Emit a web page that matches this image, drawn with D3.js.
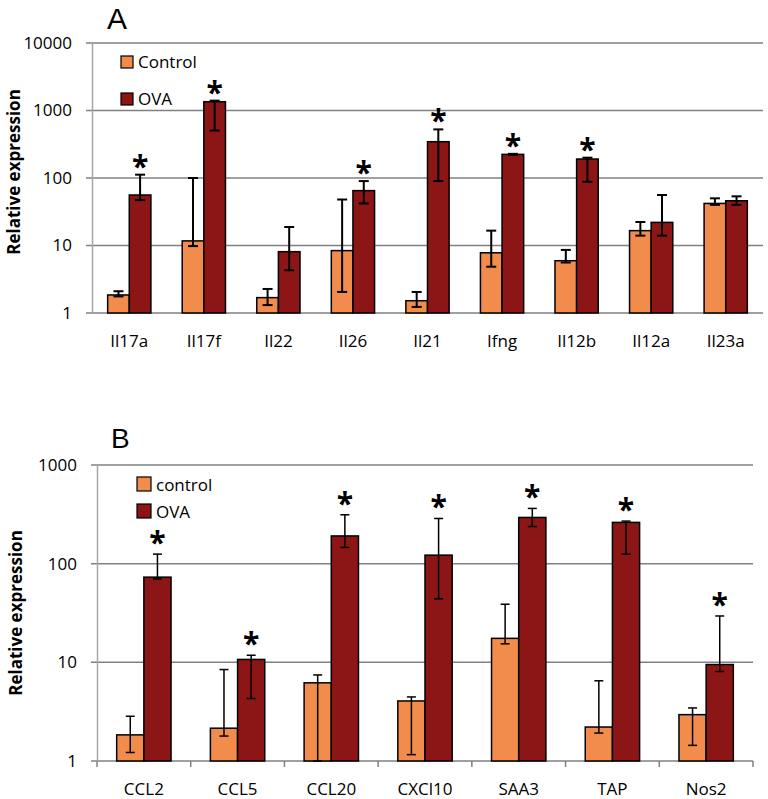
<!DOCTYPE html>
<html><head><meta charset="utf-8">
<script src="https://cdn.jsdelivr.net/npm/d3@7"></script>
<style>body{margin:0;background:#fff}svg{display:block}text{font-family:"Open Sans",sans-serif;fill:#000}</style>
</head><body>
<svg id="c" width="768" height="799"></svg>
<script>
// Panel A data
const catsA = ["Il17a","Il17f","Il22","Il26","Il21","Ifng","Il12b","Il12a","Il23a"];
const ctrlA = [1.85, 11.7, 1.69, 8.4, 1.52, 7.8, 5.95, 16.6, 42];
const ctrlA_lo = [1.76, 9.8, 1.31, 2.05, 1.23, 4.85, 5.6, 14, 40];
const ctrlA_hi = [2.1, 100, 2.27, 48, 2.05, 16.6, 8.6, 22.3, 50];
const ovaA = [56, 1350, 8.1, 65, 345, 224, 191, 22, 46];
const ovaA_lo = [47, 505, 4.3, 42, 90, 220, 88, 14, 40];
const ovaA_hi = [112, 1400, 18.8, 90, 525, 228, 200, 56, 53.5];
const sigA = [1,1,0,1,1,1,1,0,0];
const ticksA = [1,10,100,1000,10000];

// Panel B data
const catsB = ["CCL2","CCL5","CCL20","CXCl10","SAA3","TAP","Nos2"];
const ctrlB = [1.84, 2.15, 6.2, 4.06, 17.5, 2.21, 2.95];
const ctrlB_lo = [1.22, 1.79, 1.0, 1.16, 15.4, 1.92, 1.44];
const ctrlB_hi = [2.84, 8.45, 7.45, 4.46, 38.8, 6.5, 3.45];
const ovaB = [73, 10.7, 191, 122, 294, 262, 9.5];
const ovaB_lo = [70, 4.3, 146, 44, 238, 125, 8.07];
const ovaB_hi = [125, 11.8, 313, 287, 363, 270, 29.5];
const sigB = [1,1,1,1,1,1,1];
const ticksB = [1,10,100,1000];

const C_CTRL = "#F28C4C", C_OVA = "#8C1616";
const svg = d3.select("#c");

function panel(o){
  const g = svg.append("g");
  const x = d3.scaleBand().domain(o.cats).range([o.left,o.right]).paddingInner(0.42).paddingOuter(0.21);
  const y = d3.scaleLog().domain([1,o.max]).range([o.bottom,o.top]);
  const bw = x.bandwidth()/2;
  // gridlines
  g.selectAll(".grid").data(o.ticks).join("line")
    .attr("x1",o.left-6).attr("x2",o.right).attr("y1",d=>y(d)).attr("y2",d=>y(d))
    .attr("stroke","#808080").attr("stroke-width",1.5);
  // y axis
  const ax = g.append("g").attr("transform",`translate(${o.left},0)`)
    .call(d3.axisLeft(y).tickValues(o.ticks).tickFormat(d3.format("d")).tickSize(0).tickPadding(20));
  ax.select(".domain").attr("stroke","#a6a6a6").attr("stroke-width",1.5);
  ax.selectAll("text").attr("font-size",17).attr("font-family","Open Sans");
  // x axis labels
  const axx = g.append("g").attr("transform",`translate(0,${o.bottom})`)
    .call(d3.axisBottom(x).tickSize(0).tickPadding(o.labelPad));
  axx.select(".domain").remove();
  axx.selectAll("text").attr("font-size",17).attr("font-family","Open Sans");
  if(o.xticks){
    g.selectAll(".xt").data(d3.range(o.cats.length+1)).join("line")
      .attr("x1",i=>o.left+i*x.step()).attr("x2",i=>o.left+i*x.step())
      .attr("y1",o.bottom).attr("y2",o.bottom+6).attr("stroke","#808080").attr("stroke-width",1.5);
  }
  const series = [
    {vals:o.ctrl, lo:o.ctrlLo, hi:o.ctrlHi, col:C_CTRL, off:0},
    {vals:o.ova, lo:o.ovaLo, hi:o.ovaHi, col:C_OVA, off:bw}
  ];
  series.forEach(s=>{
    g.selectAll(null).data(o.cats).join("rect")
      .attr("x",(c)=>x(c)+s.off).attr("width",bw)
      .attr("y",(c,i)=>y(s.vals[i])).attr("height",(c,i)=>o.bottom-y(s.vals[i]))
      .attr("fill",s.col).attr("stroke","#000").attr("stroke-width",1.5);
  });
  series.forEach(s=>{
    const eg = g.append("g").attr("stroke","#000").attr("stroke-width",o.ew);
    o.cats.forEach((c,i)=>{
      const cx = x(c)+s.off+bw/2;
      eg.append("line").attr("x1",cx).attr("x2",cx).attr("y1",y(s.lo[i])).attr("y2",y(s.hi[i]));
      eg.append("line").attr("x1",cx-o.cap).attr("x2",cx+o.cap).attr("y1",y(s.lo[i])).attr("y2",y(s.lo[i]));
      eg.append("line").attr("x1",cx-o.cap).attr("x2",cx+o.cap).attr("y1",y(s.hi[i])).attr("y2",y(s.hi[i]));
    });
  });
  // asterisks
  g.selectAll(".ast").data(o.cats.filter((c,i)=>o.sig[i])).join("text")
    .attr("x",c=>x(c)+bw*1.5).attr("y",c=>y(o.ovaHi[o.cats.indexOf(c)])+o.astOff)
    .attr("text-anchor","middle").attr("font-size",30).attr("font-weight","bold").text("*");
  // y title
  g.append("text").attr("transform",`translate(${o.titleX},${o.titleY}) rotate(-90)`)
    .attr("text-anchor","middle").attr("font-size",17).attr("font-weight","bold").text("Relative expression");
  // panel letter
  g.append("text").attr("x",o.letterX).attr("y",o.letterY).attr("font-size",o.letterSize)
    .style("font-family","'Liberation Sans',Arial,sans-serif").text(o.letter);
  // legend
  const lg = g.append("g");
  [[o.legNames[0],C_CTRL],[o.legNames[1],C_OVA]].forEach((d,i)=>{
    lg.append("rect").attr("x",o.legX).attr("y",o.legY+i*o.legDy).attr("width",o.legS).attr("height",o.legS)
      .attr("fill",d[1]).attr("stroke","#000").attr("stroke-width",1.2);
    lg.append("text").attr("x",o.legX+o.legS+5).attr("y",o.legY+i*o.legDy+o.legS-0.5).attr("font-size",17).text(d[0]);
  });
}

panel({cats:catsA, ctrl:ctrlA, ctrlLo:ctrlA_lo, ctrlHi:ctrlA_hi, ova:ovaA, ovaLo:ovaA_lo, ovaHi:ovaA_hi,
  sig:sigA, ticks:ticksA, max:10000, left:92, right:763, top:43, bottom:313, labelPad:22, xticks:false,
  ew:2, cap:5, astOff:2, titleX:20, titleY:172, letter:"A", letterX:107, letterY:29, letterSize:30,
  legNames:["Control","OVA"], legX:121, legY:56, legDy:37, legS:12});

panel({cats:catsB, ctrl:ctrlB, ctrlLo:ctrlB_lo, ctrlHi:ctrlB_hi, ova:ovaB, ovaLo:ovaB_lo, ovaHi:ovaB_hi,
  sig:sigB, ticks:ticksB, max:1000, left:97, right:753, top:465, bottom:761, labelPad:22, xticks:true,
  ew:1.5, cap:4.5, astOff:-1, titleX:22, titleY:613, letter:"B", letterX:111, letterY:448, letterSize:28,
  legNames:["control","OVA"], legX:137, legY:477, legDy:27, legS:14});
</script>
</body></html>
